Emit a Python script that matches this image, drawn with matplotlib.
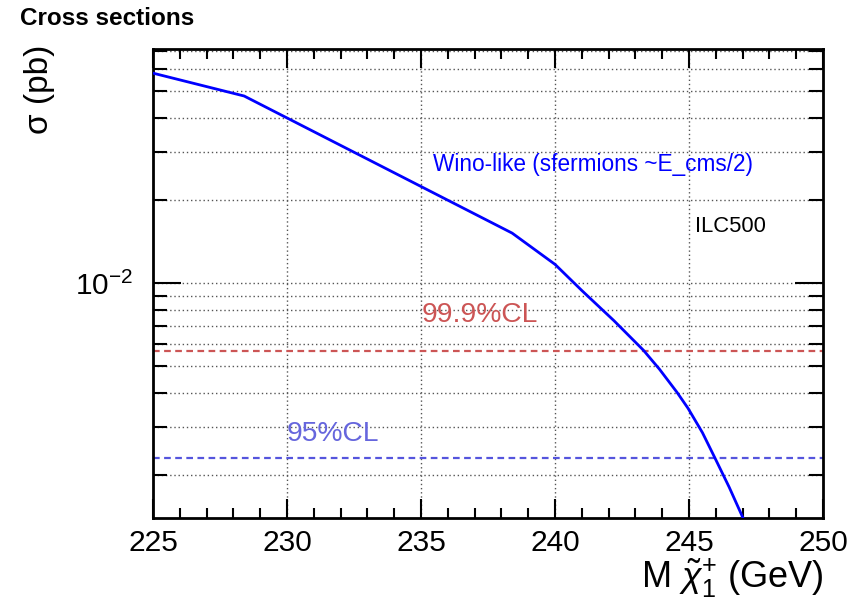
import numpy as np
import matplotlib
matplotlib.use("Agg")
import matplotlib.pyplot as plt
from matplotlib.ticker import LogLocator, NullFormatter, FixedLocator, FixedFormatter, MultipleLocator

plt.rcParams["font.family"] = ["Liberation Sans", "DejaVu Sans"]
plt.rcParams["mathtext.fontset"] = "custom"
plt.rcParams["mathtext.rm"] = "Liberation Sans"
plt.rcParams["mathtext.it"] = "Liberation Sans:italic"

# cross section curve
mass = [225.0, 228.4, 238.4, 240.0, 241.0, 242.2, 243.3, 243.9, 244.55, 244.96, 245.5, 245.97, 246.5, 247.0, 247.6]
xsec = [0.058, 0.0479, 0.0152, 0.0117, 0.0094, 0.0073, 0.0057, 0.00486, 0.00401, 0.00351, 0.00286, 0.00231, 0.00181, 0.00141, 0.00102]
cl999 = 0.00567
cl95 = 0.00231

fig = plt.figure(figsize=(8.62, 6.14), dpi=100)
ax = fig.add_axes([0.1775, 0.1564, 0.9548 - 0.1775, 0.9202 - 0.1564])
ax.set_yscale("log")
ax.set_xlim(225, 250)
ax.set_ylim(1.40e-3, 0.0710)

grid_kw = dict(color="#555555", ls=(0, (1, 2)), lw=1.0, zorder=0)
for v in [230, 235, 240, 245]:
    ax.axvline(v, **grid_kw)
for dec in [1e-3, 1e-2]:
    for m in range(1, 10):
        val = m * dec
        if 1.40e-3 < val < 0.0710:
            ax.axhline(val, **grid_kw)

ax.axhline(cl999, color="#cc5555", ls=(0, (3, 2)), lw=1.6, zorder=1)
ax.axhline(cl95, color="#5555dd", ls=(0, (3, 2)), lw=1.6, zorder=1)
ax.plot(mass, xsec, color="#0000ff", lw=2.0, zorder=3)

ax.text(235.45, 0.0269, "Wino-like (sfermions ~E_cms/2)", color="#0000ff", fontsize=16.3, va="center")
ax.text(245.22, 0.0160, "ILC500", color="black", fontsize=15.8, va="center")
ax.text(235.04, 0.00765, "99.9%CL", color="#cc5555", fontsize=20.3, va="center")
ax.text(230.0, 0.00283, "95%CL", color="#6666dd", fontsize=20.3, va="center")

ax.xaxis.set_major_locator(MultipleLocator(5))
ax.xaxis.set_minor_locator(MultipleLocator(1))
ax.yaxis.set_major_locator(FixedLocator([1e-2]))
ax.yaxis.set_major_formatter(FixedFormatter([r"$10^{-2}$"]))
ax.yaxis.set_minor_locator(LogLocator(base=10, subs=np.arange(2, 10)))
ax.yaxis.set_minor_formatter(NullFormatter())

ax.tick_params(which="both", direction="in", top=True, right=True, width=1.5, labelsize=21.5)
ax.tick_params(axis="x", which="major", length=14, pad=8)
ax.tick_params(axis="x", which="minor", length=7)
ax.tick_params(axis="y", which="major", length=20, pad=14)
ax.tick_params(axis="y", which="minor", length=10)
for s in ax.spines.values():
    s.set_linewidth(2.0)

ax.set_xlabel(r"M $\tilde{\chi}^{+}_{1}$ (GeV)", fontsize=26, loc="right", labelpad=0)
fig.text(40 / 862, 1 - 45 / 614, "σ (pb)", fontsize=24, rotation=90, ha="center", va="top")

fig.text(0.023, 0.97, "Cross sections", fontsize=17.5, fontweight="bold", va="center")

fig.savefig("out.png", dpi=100)
